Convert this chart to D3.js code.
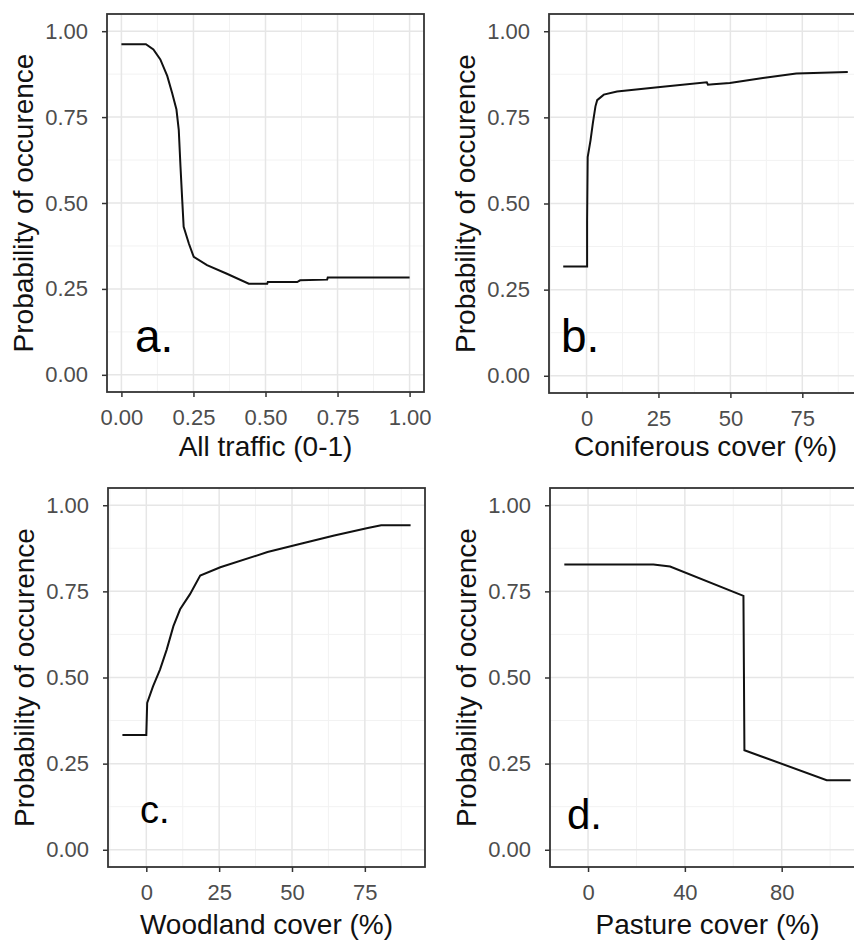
<!DOCTYPE html>
<html>
<head>
<meta charset="utf-8">
<script src="https://cdn.jsdelivr.net/npm/d3@7"></script>
<style>
  body { margin: 0; background: #fff; }
  svg { display: block; font-family: "Liberation Sans", Arial, sans-serif; }
</style>
</head>
<body>
<div id="chart"></div>
<script>
// Partial dependence curves
const trafficX = [0, 0.085, 0.111, 0.135, 0.159, 0.176, 0.191, 0.199, 0.205, 0.211, 0.216, 0.234, 0.251, 0.297, 0.366, 0.442, 0.506, 0.508, 0.61, 0.62, 0.714, 0.716, 1.0];
const trafficP = [0.962, 0.962, 0.947, 0.918, 0.87, 0.82, 0.772, 0.713, 0.606, 0.509, 0.431, 0.382, 0.343, 0.319, 0.294, 0.265, 0.265, 0.27, 0.27, 0.275, 0.277, 0.283, 0.283];

const coniferX = [-8.1, 0.2, 0.2, 0.4, 1.4, 2.2, 3.1, 3.7, 6.0, 10.6, 25.6, 41.8, 42.2, 44, 49.8, 61.3, 72.9, 90.8];
const coniferP = [0.317, 0.317, 0.45, 0.635, 0.684, 0.733, 0.782, 0.80, 0.816, 0.825, 0.838, 0.852, 0.845, 0.846, 0.85, 0.864, 0.877, 0.882];

const woodlandX = [-8.2, 0, 0.3, 2.3, 4.7, 7.0, 9.3, 11.6, 15.0, 18.5, 25.4, 41.6, 53.0, 64.5, 76.0, 80.6, 90.7];
const woodlandP = [0.333, 0.333, 0.426, 0.474, 0.523, 0.581, 0.649, 0.698, 0.742, 0.796, 0.82, 0.864, 0.888, 0.912, 0.934, 0.942, 0.942];

const pastureX = [-9.8, 27, 33.9, 64.2, 64.6, 98.6, 108.5];
const pastureP = [0.828, 0.828, 0.822, 0.737, 0.289, 0.202, 0.202];

const probTicks = [0, 0.25, 0.5, 0.75, 1];
const trafficTicks = [0, 0.25, 0.5, 0.75, 1];
const coverTicks = [0, 25, 50, 75];
const pastureTicks = [0, 40, 80];

const yTitle = 'Probability of occurence';

const panels = [
  { xs: trafficX, ps: trafficP, ticks: trafficTicks, fmt: d3.format('.2f'), xTitle: 'All traffic (0-1)', tag: 'a.',
    box: { left: 107, right: 424, top: 14, bottom: 392 }, tagPos: [135, 352], tagSize: 46, titleDy: 64 },
  { xs: coniferX, ps: coniferP, ticks: coverTicks, fmt: d3.format('d'), xTitle: 'Coniferous cover (%)', tag: 'b.',
    box: { left: 549, right: 862, top: 14, bottom: 393 }, tagPos: [561, 352], tagSize: 46, titleDy: 63 },
  { xs: woodlandX, ps: woodlandP, ticks: coverTicks, fmt: d3.format('d'), xTitle: 'Woodland cover (%)', tag: 'c.',
    box: { left: 108, right: 425, top: 488, bottom: 867 }, tagPos: [140, 823], tagSize: 38, titleDy: 67 },
  { xs: pastureX, ps: pastureP, ticks: pastureTicks, fmt: d3.format('d'), xTitle: 'Pasture cover (%)', tag: 'd.',
    box: { left: 550, right: 865, top: 488, bottom: 867 }, tagPos: [567, 829], tagSize: 42, titleDy: 67 }
];

const width = 854;
const height = 940;

const svg = d3.select('#chart')
  .append('svg')
  .attr('width', width)
  .attr('height', height);

svg.append('rect').attr('width', width).attr('height', height).attr('fill', '#fff');

// ggplot-artige Erweiterung um 5 %
function expand(ext) {
  const pad = (ext[1] - ext[0]) * 0.05;
  return [ext[0] - pad, ext[1] + pad];
}

function minorBreaks(major, domain) {
  const step = major[1] - major[0];
  const out = [];
  for (let v = major[0] - step / 2; v <= domain[1]; v += step) {
    if (v >= domain[0] && v <= domain[1]) out.push(v);
  }
  return out;
}

panels.forEach(p => {
  const b = p.box;
  const xDom = p.xs === trafficX ? expand([0, 1]) : expand(d3.extent(p.xs));
  const yDom = expand([0, 1]);
  const x = d3.scaleLinear().domain(xDom).range([b.left, b.right]);
  const y = d3.scaleLinear().domain(yDom).range([b.bottom, b.top]);

  const g = svg.append('g');

  // Gitter: Nebenlinien, dann Hauptlinien
  const xMinor = minorBreaks(p.ticks, xDom);
  const yMinor = minorBreaks(probTicks, yDom);
  g.selectAll('line.xminor').data(xMinor).join('line')
    .attr('x1', d => x(d)).attr('x2', d => x(d))
    .attr('y1', b.top).attr('y2', b.bottom)
    .attr('stroke', '#f2f2f2').attr('stroke-width', 1);
  g.selectAll('line.yminor').data(yMinor).join('line')
    .attr('y1', d => y(d)).attr('y2', d => y(d))
    .attr('x1', b.left).attr('x2', b.right)
    .attr('stroke', '#f2f2f2').attr('stroke-width', 1);
  g.selectAll('line.xmajor').data(p.ticks).join('line')
    .attr('x1', d => x(d)).attr('x2', d => x(d))
    .attr('y1', b.top).attr('y2', b.bottom)
    .attr('stroke', '#e6e6e6').attr('stroke-width', 1.5);
  g.selectAll('line.ymajor').data(probTicks).join('line')
    .attr('y1', d => y(d)).attr('y2', d => y(d))
    .attr('x1', b.left).attr('x2', b.right)
    .attr('stroke', '#e6e6e6').attr('stroke-width', 1.5);

  // Kurve
  const pts = p.xs.map((v, i) => [v, p.ps[i]]);
  g.append('path')
    .datum(pts)
    .attr('d', d3.line().x(d => x(d[0])).y(d => y(d[1])))
    .attr('fill', 'none')
    .attr('stroke', '#111')
    .attr('stroke-width', 2);

  // Achsen
  const xAxis = g.append('g')
    .attr('transform', `translate(0,${b.bottom})`)
    .call(d3.axisBottom(x).tickValues(p.ticks).tickFormat(p.fmt).tickSize(5).tickPadding(12));
  const yAxis = g.append('g')
    .attr('transform', `translate(${b.left},0)`)
    .call(d3.axisLeft(y).tickValues(probTicks).tickFormat(d3.format('.2f')).tickSize(5).tickPadding(14));
  [xAxis, yAxis].forEach(ax => {
    ax.select('.domain').remove();
    ax.selectAll('line').attr('stroke', '#333').attr('stroke-width', 1.5);
    ax.selectAll('text')
      .attr('fill', '#4d4d4d')
      .style('font-size', '22px')
      .style('font-family', '"Liberation Sans", Arial, sans-serif');
  });

  // Rahmen
  g.append('rect')
    .attr('x', b.left).attr('y', b.top)
    .attr('width', b.right - b.left).attr('height', b.bottom - b.top)
    .attr('fill', 'none').attr('stroke', '#333').attr('stroke-width', 1.8);

  // Achsentitel
  g.append('text')
    .attr('x', (b.left + b.right) / 2)
    .attr('y', b.bottom + p.titleDy)
    .attr('text-anchor', 'middle')
    .attr('font-size', 28)
    .attr('fill', '#111')
    .text(p.xTitle);

  g.append('text')
    .attr('transform', `translate(${b.left - 74},${(b.top + b.bottom) / 2}) rotate(-90)`)
    .attr('text-anchor', 'middle')
    .attr('font-size', 28)
    .attr('fill', '#111')
    .text(yTitle);

  // Panelbuchstabe
  g.append('text')
    .attr('x', p.tagPos[0])
    .attr('y', p.tagPos[1])
    .attr('font-size', p.tagSize)
    .attr('fill', '#000')
    .text(p.tag);
});
</script>
</body>
</html>
